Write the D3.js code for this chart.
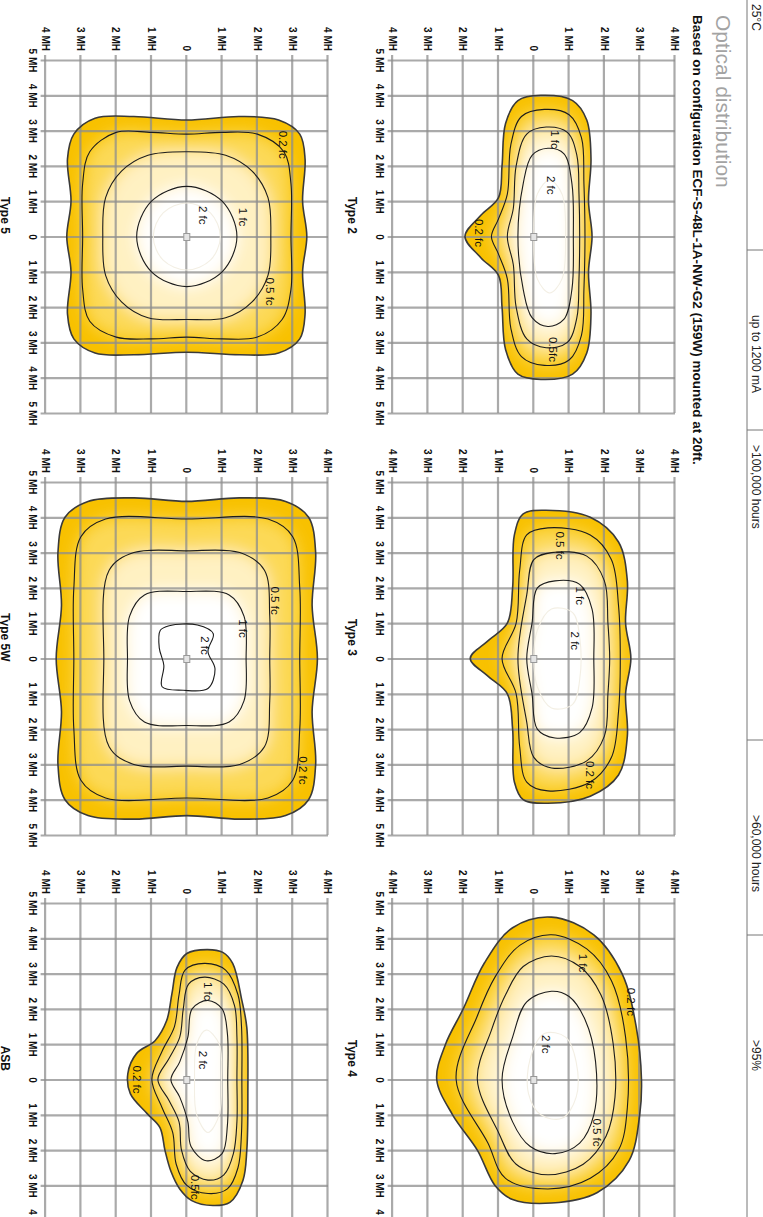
<!DOCTYPE html>
<html>
<head>
<meta charset="utf-8">
<script src="https://cdn.jsdelivr.net/npm/d3@7"></script>
<style>
body { margin: 0; background: #fff; }
</style>
</head>
<body>
<script>
// Page is drawn in its own orientation (1217 x 763) and turned 90deg clockwise

const pageW = 1217, pageH = 763;
const unit = 35.3;                 // px per MH
const plotW = unit*10, plotH = unit*8;
const colU = [60, 482, 903];
const rowV = [88, 435];

// Axis ticks (MH)
const xTicks = [-5,-4,-3,-2,-1,0,1,2,3,4,5];
const xTickLabels = ["5 MH","4 MH","3 MH","2 MH","1 MH","0","1 MH","2 MH","3 MH","4 MH","5 MH"];
const yTicks = [-4,-3,-2,-1,0,1,2,3,4];
const yTickLabels = ["4 MH","3 MH","2 MH","1 MH","0","1 MH","2 MH","3 MH","4 MH"];

// Header table and titles
const tableTexts = ["25°C","up to 1200 mA",">100,000 hours",">60,000 hours",">95%"];
const titleText = "Optical distribution";
const subtitleText = "Based on configuration ECF-S-48L-1A-NW-G2 (159W) mounted at 20ft.";

// Contours, [x, y] in MH: outer edge, 0.2 fc, 0.5 fc, 1 fc, 2 fc
const type2Contours = [
  [[-4.0,0.2],[-3.85,-0.45],[-3.2,-0.8],[-2.0,-0.9],[-1.1,-1.0],[-0.6,-1.5],[0,-1.95],[0.6,-1.5],[1.1,-1.0],[2.0,-0.9],[3.2,-0.8],[3.9,-0.45],[4.05,0.2],[3.9,1.1],[3.3,1.5],[2.2,1.62],[1,1.55],[0,1.65],[-1,1.55],[-2.2,1.62],[-3.3,1.5],[-3.85,1.1]],
  [[-3.6,0.3],[-3.4,-0.35],[-2.6,-0.65],[-1.2,-0.75],[-0.5,-1.0],[0,-1.2],[0.5,-1.0],[1.2,-0.75],[2.6,-0.65],[3.4,-0.35],[3.65,0.3],[3.5,1.0],[2.8,1.35],[1.5,1.42],[0,1.45],[-1.5,1.42],[-2.8,1.35],[-3.45,1.0]],
  [[-3.1,0.35],[-2.9,-0.2],[-2.0,-0.5],[-0.8,-0.58],[0,-0.75],[0.8,-0.58],[2.0,-0.5],[2.9,-0.2],[3.15,0.35],[3.0,0.95],[2.3,1.22],[1.2,1.28],[0,1.3],[-1.2,1.28],[-2.3,1.22],[-2.95,0.95]],
  [[-2.5,0.4],[-2.3,-0.05],[-1.5,-0.3],[0,-0.45],[1.5,-0.3],[2.3,-0.05],[2.55,0.4],[2.35,0.85],[1.5,1.08],[0,1.12],[-1.5,1.08],[-2.35,0.85]],
  [[-1.6,0.45],[-1.2,0.1],[0,0.0],[1.2,0.1],[1.6,0.45],[1.2,0.8],[0,0.9],[-1.2,0.8]]
];
const type2Labels = [["0.2 fc",-0.1,-1.55],["1 fc",-2.75,0.6],["2 fc",-1.45,0.5],["0.5fc",3.2,0.55]];

const type3Contours = [
  [[-4.2,0.3],[-4.1,-0.3],[-3.5,-0.55],[-2,-0.6],[-1.0,-0.75],[-0.5,-1.3],[0,-1.8],[0.5,-1.3],[1.0,-0.75],[2,-0.6],[3.5,-0.55],[4.0,-0.3],[4.1,0.4],[3.9,1.6],[3.3,2.4],[2.2,2.65],[1,2.6],[0,2.75],[-1,2.6],[-2.2,2.65],[-3.3,2.4],[-4.0,1.6]],
  [[-3.7,0.4],[-3.5,-0.2],[-2.5,-0.4],[-1,-0.5],[0,-0.9],[1,-0.5],[2.5,-0.4],[3.5,-0.2],[3.75,0.4],[3.5,1.6],[2.8,2.2],[1.5,2.4],[0,2.45],[-1.5,2.4],[-2.8,2.2],[-3.5,1.6]],
  [[-3.0,0.5],[-2.8,0.0],[-1.8,-0.2],[0,-0.45],[1.8,-0.2],[2.8,0.0],[3.1,0.5],[2.9,1.5],[2.2,2.0],[1,2.1],[0,2.15],[-1,2.1],[-2.2,2.0],[-2.9,1.5]],
  [[-2.2,0.6],[-2.0,0.1],[-1,-0.05],[0,-0.2],[1,-0.05],[2.0,0.1],[2.25,0.6],[2.1,1.3],[1.4,1.65],[0,1.7],[-1.4,1.65],[-2.1,1.3]],
  [[-1.4,0.5],[-0.8,0.1],[0,0.0],[0.8,0.1],[1.4,0.5],[1.3,1.1],[0.6,1.3],[-0.6,1.3],[-1.3,1.1]]
];
const type3Labels = [["0.5 fc",-3.2,0.74],["1 fc",-1.78,1.3],["2 fc",-0.5,1.16],["0.2 fc",3.3,1.6]];

const type4Contours = [
  [[-4.6,0.5],[-4.3,-0.6],[-3.3,-1.4],[-2,-2.0],[-1,-2.5],[0,-2.75],[1,-2.3],[2,-1.6],[3.0,-1.1],[3.4,-0.6],[3.5,0.5],[3.2,1.8],[2.3,2.7],[1,3.0],[0,3.05],[-1.5,2.9],[-3,2.5],[-4.1,1.7]],
  [[-4.1,0.5],[-3.8,-0.4],[-2.9,-1.1],[-1.8,-1.6],[0,-2.2],[1.8,-1.3],[2.8,-0.8],[3.1,0.4],[2.8,1.6],[2.0,2.4],[0.8,2.65],[-1.2,2.6],[-2.8,2.2],[-3.7,1.5]],
  [[-3.5,0.5],[-3.2,-0.3],[-2.4,-0.8],[-1.4,-1.2],[0,-1.6],[1.5,-1.0],[2.4,-0.5],[2.7,0.4],[2.4,1.4],[1.6,2.05],[0.5,2.3],[-1.0,2.25],[-2.4,1.9],[-3.2,1.3]],
  [[-2.5,0.5],[-2.2,-0.2],[-1.2,-0.6],[0,-0.9],[1.2,-0.6],[1.9,-0.1],[2.1,0.6],[1.8,1.3],[1.0,1.7],[-0.5,1.75],[-1.7,1.45],[-2.35,1.0]],
  [[-1.3,0.3],[-0.6,-0.1],[0.4,-0.15],[1.0,0.2],[1.1,0.8],[0.5,1.2],[-0.5,1.2],[-1.2,0.9]]
];
const type4Labels = [["0.2 fc",-2.2,2.75],["1 fc",-3.3,1.4],["2 fc",-1.0,0.35],["0.5 fc",1.5,1.8]];

const type5Contours = [
  [[-3.35,-2.6],[-3.4,-1.5],[-3.3,0],[-3.4,1.5],[-3.3,2.6],[-2.9,3.2],[-2.2,3.35],[-1,3.28],[0,3.4],[1,3.28],[2.2,3.35],[2.9,3.2],[3.3,2.6],[3.35,1.5],[3.28,0],[3.35,-1.5],[3.3,-2.6],[2.9,-3.2],[2.2,-3.38],[1,-3.28],[0,-3.4],[-1,-3.28],[-2.2,-3.38],[-2.9,-3.2]],
  [[-2.95,-2.0],[-2.95,-1.0],[-2.9,0],[-2.95,1.0],[-2.9,2.0],[-2.4,2.75],[-1.5,2.95],[0,2.95],[1.5,2.95],[2.35,2.7],[2.85,2.0],[2.9,1.0],[2.85,0],[2.9,-1.0],[2.85,-2.0],[2.4,-2.75],[1.5,-2.95],[0,-2.95],[-1.5,-2.95],[-2.4,-2.75]],
  [[-2.4,0],[-2.3,1.1],[-1.85,1.85],[-1.1,2.3],[0,2.38],[1.1,2.3],[1.85,1.85],[2.3,1.1],[2.35,0],[2.3,-1.1],[1.85,-1.85],[1.1,-2.3],[0,-2.38],[-1.1,-2.3],[-1.85,-1.85],[-2.3,-1.1]],
  [[-1.42,0],[-1.0,1.0],[0,1.42],[1.0,1.0],[1.42,0],[1.0,-1.0],[0,-1.42],[-1.0,-1.0]],
  [[-0.95,0],[-0.67,0.67],[0,0.95],[0.67,0.67],[0.95,0],[0.67,-0.67],[0,-0.95],[-0.67,-0.67]]
];
const type5Labels = [["0.2 fc",-2.6,2.72],["1 fc",-0.55,1.6],["2 fc",-0.6,0.45],["0.5 fc",1.56,2.35]];

const type5wContours = [
  [[-4.45,-2.8],[-4.55,-1.5],[-4.45,0],[-4.55,1.5],[-4.45,2.8],[-4.0,3.45],[-3.0,3.65],[-1.5,3.55],[0,3.7],[1.5,3.55],[3.0,3.65],[4.0,3.45],[4.45,2.8],[4.55,1.5],[4.45,0],[4.55,-1.5],[4.45,-2.8],[4.0,-3.45],[3.0,-3.65],[1.5,-3.55],[0,-3.7],[-1.5,-3.55],[-3.0,-3.65],[-4.0,-3.45]],
  [[-3.95,-2.3],[-3.95,0],[-3.95,2.3],[-3.45,3.0],[-2,3.2],[0,3.2],[2,3.2],[3.45,3.0],[3.95,2.3],[3.95,0],[3.95,-2.3],[3.45,-3.0],[2,-3.2],[0,-3.2],[-2,-3.2],[-3.45,-3.0]],
  [[-3.0,-1.5],[-3.05,0],[-3.0,1.5],[-2.5,2.2],[-1.2,2.35],[0,2.35],[1.2,2.35],[2.5,2.2],[3.0,1.5],[3.05,0],[3.0,-1.5],[2.5,-2.2],[0,-2.35],[-2.5,-2.2]],
  [[-1.9,0],[-1.8,1.2],[-1.2,1.62],[0,1.68],[1.2,1.62],[1.8,1.2],[1.9,0],[1.8,-1.2],[1.2,-1.62],[0,-1.68],[-1.2,-1.62],[-1.8,-1.2]],
  [[-0.93,-0.5],[-0.95,0.3],[-0.7,0.75],[-0.2,0.6],[0.3,0.8],[0.85,0.6],[0.9,-0.1],[0.8,-0.7],[0.2,-0.65],[-0.3,-0.78],[-0.8,-0.75]]
];
const type5wLabels = [["0.2 fc",3.17,3.29],["1 fc",-0.85,1.59],["2 fc",-0.37,0.51],["0.5 fc",-1.64,2.49]];

const asbContours = [
  [[-3.57,0],[-3.17,-0.28],[-2.44,-0.42],[-1.67,-0.57],[-1.1,-0.9],[-0.74,-1.42],[-0.17,-1.67],[0.4,-1.6],[0.96,-1.13],[1.36,-0.76],[2.0,-0.62],[2.6,-0.45],[3.1,-0.2],[3.43,0.14],[3.57,0.74],[3.48,1.22],[2.86,1.59],[2.0,1.7],[0.4,1.73],[-1.47,1.7],[-2.24,1.56],[-3.29,1.3],[-3.6,1.02],[-3.68,0.57]],
  [[-3.29,0.5],[-3.1,-0.05],[-2.4,-0.22],[-1.5,-0.35],[-0.8,-0.7],[0,-0.99],[0.8,-0.7],[1.5,-0.4],[2.4,-0.3],[3.0,0.0],[3.23,0.6],[3.1,1.15],[2.5,1.45],[1.5,1.55],[0,1.56],[-1.5,1.55],[-2.4,1.45],[-3.1,1.1]],
  [[-2.9,0.5],[-2.7,0.05],[-2.0,-0.1],[-1.2,-0.2],[-0.6,-0.5],[0,-0.82],[0.6,-0.5],[1.2,-0.22],[2.0,-0.15],[2.6,0.1],[2.85,0.6],[2.7,1.05],[2.1,1.32],[1.2,1.42],[0,1.42],[-1.2,1.42],[-2.1,1.35],[-2.7,1.05]],
  [[-2.24,0.6],[-2.0,0.15],[-1.2,0.03],[-0.5,-0.2],[0,-0.45],[0.5,-0.2],[1.2,0.03],[1.9,0.12],[2.3,0.55],[2.1,1.0],[1.3,1.15],[0,1.16],[-1.3,1.15],[-2.0,1.0]],
  [[-1.4,0.55],[-1.0,0.28],[0,0.22],[1.0,0.28],[1.5,0.6],[1.0,0.92],[0,0.98],[-1.0,0.92]]
];
const asbLabels = [["1 fc",-2.5,0.6],["2 fc",-0.55,0.45],["0.2 fc",0,-1.42],["0.5fc",3.05,0.23]];

const panelNames = ["Type 2","Type 3","Type 4","Type 5","Type 5W","ASB"];
const panelContours = [type2Contours, type3Contours, type4Contours, type5Contours, type5wContours, asbContours];
const panelLabels = [type2Labels, type3Labels, type4Labels, type5Labels, type5wLabels, asbLabels];
const darkCore = [false, false, false, false, true, false];   // 2 fc line drawn dark

// Fill tones from the outer edge inwards
const gold = "#F8C100";
const innerTones = ["#FCD957", "#FFF1C2", "#FFFFFF", "#FFFFFF"];

//Create the SVG, turned a quarter clockwise

const svg = d3.select("body")
 .append("svg")
 .attr("width", pageH)
 .attr("height", pageW);

const defs = svg.append("defs");
defs.append("filter")
 .attr("id", "soft")
 .attr("x", "-30%").attr("y", "-30%").attr("width", "160%").attr("height", "160%")
 .append("feGaussianBlur")
 .attr("stdDeviation", 8);

const page = svg.append("g")
 .attr("transform", `translate(${pageH},0) rotate(90)`);

// Header table

const tableU = [0, 250, 430, 740, 935];
const tableTextU = [4, 315, 445, 815, 1040];
page.append("line")
 .attr("x1", 0).attr("x2", pageW).attr("y1", 16).attr("y2", 16)
 .attr("stroke", "#777").attr("stroke-width", 1);
tableU.slice(1).forEach(u => {
  page.append("line").attr("x1", u).attr("x2", u).attr("y1", 0).attr("y2", 16)
   .attr("stroke", "#777").attr("stroke-width", 1);
});
page.selectAll("text.cell")
 .data(tableTexts)
 .join("text")
 .attr("class", "cell")
 .attr("x", (d,i) => tableTextU[i])
 .attr("y", 11)
 .attr("font-family", "Liberation Sans, Arial, sans-serif")
 .attr("font-size", 12)
 .attr("fill", "#222")
 .text(d => d);

page.append("text")
 .attr("x", 15).attr("y", 47)
 .attr("font-family", "Liberation Sans, Arial, sans-serif")
 .attr("font-size", 21)
 .attr("fill", "#a3a3a3")
 .text(titleText);

page.append("text")
 .attr("x", 15).attr("y", 70)
 .attr("font-family", "Liberation Sans, Arial, sans-serif")
 .attr("font-size", 13.5)
 .attr("font-weight", "bold")
 .attr("fill", "#111")
 .text(subtitleText);

// One panel

const contourLine = (x, y) => d3.line()
 .x(d => x(d[0]))
 .y(d => y(d[1]))
 .curve(d3.curveCatmullRomClosed.alpha(0.5));

function plotPanel(i){
  const u0 = colU[i % 3], v0 = rowV[Math.floor(i / 3)];
  const contours = panelContours[i];

  const x = d3.scaleLinear().domain([-5, 5]).range([u0, u0 + plotW]);
  const y = d3.scaleLinear().domain([-4, 4]).range([v0 + plotH, v0]);
  const line = contourLine(x, y);

  const g = page.append("g");

  // fill: gold body, softened lighter core, clipped to the outer edge
  defs.append("clipPath").attr("id", "clip" + i)
   .append("path").attr("d", line(contours[0]));

  g.append("path")
   .attr("d", line(contours[0]))
   .attr("fill", gold);

  g.append("g")
   .attr("clip-path", `url(#clip${i})`)
   .append("g")
   .attr("filter", "url(#soft)")
   .selectAll("path")
   .data(contours.slice(1))
   .join("path")
   .attr("d", line)
   .attr("fill", (d,k) => innerTones[k]);

  // grid through the library's axes
  const xAxis = g.append("g")
   .attr("transform", `translate(0,${v0 + plotH + 5})`)
   .call(d3.axisBottom(x).tickValues(xTicks).tickSize(-(plotH + 5)).tickPadding(5)
     .tickFormat((d,k) => xTickLabels[k]));

  const yAxis = g.append("g")
   .attr("transform", `translate(${u0 - 5},0)`)
   .call(d3.axisLeft(y).tickValues(yTicks).tickSize(-(plotW + 5)).tickPadding(4)
     .tickFormat((d,k) => yTickLabels[k]));

  [xAxis, yAxis].forEach(a => {
    a.select(".domain").remove();
    a.selectAll("line").attr("stroke", "#8e8e8e").attr("stroke-opacity", 0.75).attr("stroke-width", 2.2);
    a.selectAll("text")
     .attr("font-family", "Liberation Sans Narrow, Liberation Sans, Arial, sans-serif")
     .attr("font-weight", "bold")
     .attr("font-size", 10)
     .attr("fill", "#111");
  });

  // contour lines
  g.selectAll("path.iso")
   .data(contours)
   .join("path")
   .attr("class", "iso")
   .attr("d", line)
   .attr("fill", "none")
   .attr("stroke", (d,k) => k === 0 ? "#3a3a3a" : (k === 4 && !darkCore[i] ? "#f3efe4" : "#1c1c1c"))
   .attr("stroke-width", (d,k) => k === 0 ? 1.6 : 1.1);

  // luminaire
  g.append("rect")
   .attr("x", x(0) - 3).attr("y", y(0) - 3)
   .attr("width", 7).attr("height", 6)
   .attr("fill", "#e4e4e4").attr("stroke", "#999").attr("stroke-width", 1);

  // level labels
  g.selectAll("text.lvl")
   .data(panelLabels[i])
   .join("text")
   .attr("class", "lvl")
   .attr("x", d => x(d[1]))
   .attr("y", d => y(d[2]))
   .attr("text-anchor", "middle")
   .attr("dominant-baseline", "central")
   .attr("font-family", "Liberation Sans Narrow, Liberation Sans, Arial, sans-serif")
   .attr("font-size", 11.5)
   .attr("fill", "#111")
   .text(d => d[0]);

  // panel title
  g.append("text")
   .attr("x", x(-0.6))
   .attr("y", v0 + plotH + 45)
   .attr("text-anchor", "middle")
   .attr("font-family", "Liberation Sans, Arial, sans-serif")
   .attr("font-weight", "bold")
   .attr("font-size", 12)
   .attr("fill", "#111")
   .text(panelNames[i]);
}

panelNames.forEach((d,i) => plotPanel(i));
</script>
</body>
</html>
